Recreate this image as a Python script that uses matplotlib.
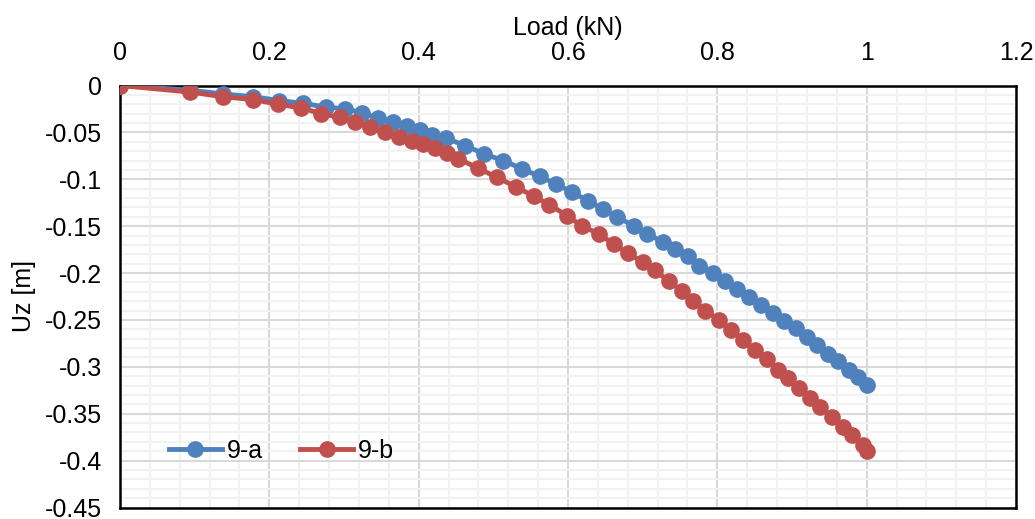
import matplotlib
matplotlib.use("Agg")
import matplotlib.pyplot as plt
from matplotlib.ticker import MultipleLocator, FuncFormatter

# load steps (kN) and vertical displacement Uz (m) for the two cases
load_a = [0.000, 0.094, 0.138, 0.178, 0.213, 0.245, 0.276, 0.302, 0.324, 0.345,
          0.366, 0.385, 0.402, 0.418, 0.436, 0.462, 0.488, 0.513, 0.539, 0.562,
          0.584, 0.606, 0.627, 0.647, 0.666, 0.688, 0.706, 0.727, 0.743, 0.761,
          0.776, 0.794, 0.810, 0.827, 0.842, 0.858, 0.874, 0.889, 0.905, 0.920,
          0.934, 0.948, 0.961, 0.976, 0.989, 1.000]
uz_a = [0.000, -0.005, -0.009, -0.012, -0.016, -0.019, -0.023, -0.025, -0.029, -0.035,
        -0.039, -0.043, -0.047, -0.053, -0.056, -0.064, -0.073, -0.080, -0.089, -0.097,
        -0.105, -0.114, -0.123, -0.132, -0.140, -0.150, -0.158, -0.167, -0.174, -0.182,
        -0.192, -0.200, -0.209, -0.217, -0.226, -0.234, -0.243, -0.251, -0.259, -0.268,
        -0.277, -0.286, -0.294, -0.303, -0.311, -0.319]

load_b = [0.000, 0.094, 0.138, 0.178, 0.212, 0.243, 0.269, 0.295, 0.315, 0.335,
          0.355, 0.373, 0.391, 0.406, 0.422, 0.438, 0.453, 0.479, 0.505, 0.530,
          0.554, 0.575, 0.599, 0.619, 0.641, 0.661, 0.680, 0.700, 0.717, 0.735,
          0.753, 0.768, 0.784, 0.802, 0.818, 0.834, 0.850, 0.866, 0.881, 0.894,
          0.909, 0.924, 0.938, 0.953, 0.968, 0.981, 0.995, 1.000]
uz_b = [0.000, -0.007, -0.012, -0.015, -0.020, -0.024, -0.030, -0.034, -0.039, -0.044,
        -0.050, -0.055, -0.059, -0.062, -0.067, -0.072, -0.078, -0.088, -0.098, -0.108,
        -0.118, -0.127, -0.139, -0.150, -0.158, -0.169, -0.179, -0.188, -0.197, -0.209,
        -0.219, -0.230, -0.240, -0.250, -0.261, -0.271, -0.282, -0.292, -0.303, -0.312,
        -0.323, -0.333, -0.343, -0.353, -0.364, -0.373, -0.383, -0.390]

labels = ["9-a", "9-b"]
colors = ["#4F81BD", "#C0504D"]

plt.rcParams["font.family"] = ["Liberation Sans", "DejaVu Sans"]
FS = 18

fig = plt.figure(figsize=(10.35, 5.19), dpi=100)
ax = fig.add_axes([120 / 1035, 1 - 507.5 / 519, 896 / 1035, 422 / 519])

for x, y, lab, c in zip([load_a, load_b], [uz_a, uz_b], labels, colors):
    ax.plot(x, y, "-o", color=c, lw=3.5, ms=11, label=lab, zorder=3)

ax.set_xlim(0, 1.2)
ax.set_ylim(-0.45, 0)
ax.xaxis.set_major_locator(MultipleLocator(0.2))
ax.xaxis.set_minor_locator(MultipleLocator(0.04))
ax.yaxis.set_major_locator(MultipleLocator(0.05))
ax.yaxis.set_minor_locator(MultipleLocator(0.01))
ax.xaxis.set_major_formatter(FuncFormatter(lambda v, p: f"{v:g}"))
ax.yaxis.set_major_formatter(FuncFormatter(lambda v, p: f"{round(v, 2):g}"))

ax.grid(True, which="major", color="#d9d9d9", lw=1.5, zorder=0)
ax.grid(True, which="minor", color="#f2f2f2", lw=1.5, zorder=0)
ax.set_axisbelow(True)

ax.xaxis.tick_top()
ax.xaxis.set_label_position("top")
ax.tick_params(which="both", length=0, labelsize=FS, colors="black")
ax.tick_params(axis="x", pad=15)
ax.tick_params(axis="y", pad=13)
for s in ax.spines.values():
    s.set_color("black")
    s.set_linewidth(1.8)

ax.set_xlabel("Load (kN)", fontsize=FS, labelpad=4)
ax.set_ylabel("Uz [m]", fontsize=FS, labelpad=6)

ax.legend(loc="center left", bbox_to_anchor=(0.041, 0.134), ncol=2, frameon=False,
          fontsize=FS, borderpad=0, handlelength=2.1, handletextpad=0.2,
          columnspacing=1.5)

fig.savefig("out.png", dpi=100)
